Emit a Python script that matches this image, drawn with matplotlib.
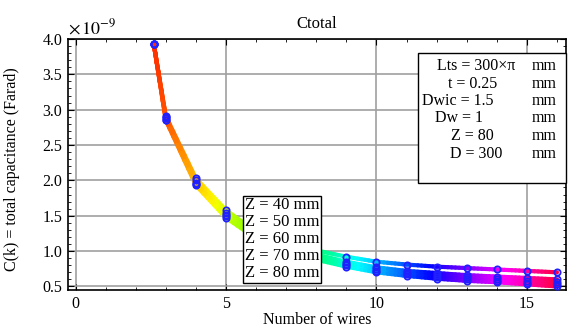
import numpy as np
import matplotlib.pyplot as plt
from matplotlib.collections import LineCollection

plt.rcParams['font.family'] = ['Liberation Serif', 'DejaVu Serif']
plt.rcParams['mathtext.fontset'] = 'stix'

# number of wires
wires = [2.6, 3, 4, 5, 6, 7, 8, 9, 10, 11, 12, 13, 14, 15, 16]

# total capacitance (x 1e-9 F) per Z
c_z40 = [3.93, 2.91, 2.03, 1.58, 1.27, 1.12, 1.01, 0.92, 0.85, 0.81, 0.78, 0.76, 0.74, 0.72, 0.70]
c_z50 = [3.93, 2.89, 2.00, 1.54, 1.24, 1.08, 0.95, 0.85, 0.77, 0.72, 0.69, 0.66, 0.64, 0.62, 0.60]
c_z60 = [3.93, 2.88, 1.97, 1.51, 1.22, 1.05, 0.92, 0.82, 0.74, 0.69, 0.66, 0.63, 0.61, 0.58, 0.56]
c_z70 = [3.93, 2.86, 1.95, 1.49, 1.20, 1.03, 0.90, 0.80, 0.72, 0.67, 0.63, 0.60, 0.58, 0.55, 0.53]
c_z80 = [3.93, 2.85, 1.93, 1.47, 1.18, 1.01, 0.88, 0.78, 0.70, 0.65, 0.61, 0.58, 0.56, 0.53, 0.50]
series = [c_z40, c_z50, c_z60, c_z70, c_z80]
labels = ['Z = 40 mm', 'Z = 50 mm', 'Z = 60 mm', 'Z = 70 mm', 'Z = 80 mm']

fig = plt.figure(figsize=(5.69, 3.27), dpi=100)
ax = fig.add_axes([68/569, 1-290/327, (566-68)/569, (290-39)/327])

cmap = plt.get_cmap('hsv')

def hue(x):
    return 0.03 + (x - 2.6) * 0.07

for i, c in enumerate(series):
    # straight segments between points, cut into small pieces for the colour gradient
    segs, cols = [], []
    for j in range(len(wires) - 1):
        x0, x1 = wires[j], wires[j+1]
        y0, y1 = c[j], c[j+1]
        for t in np.linspace(0, 1, 9)[:-1]:
            xa = x0 + (x1 - x0) * t
            xb = x0 + (x1 - x0) * (t + 1/8)
            ya = y0 + (y1 - y0) * t
            yb = y0 + (y1 - y0) * (t + 1/8)
            segs.append([(xa, ya), (xb, yb)])
            cols.append(cmap(hue((xa + xb) / 2)))
    lc = LineCollection(segs, colors=cols, linewidths=3, capstyle='round', zorder=2)
    ax.add_collection(lc)
    ax.plot(wires, c, 'o', ms=4.5, mfc='none', mec='#2020ff', mew=1.3, zorder=3)

ax.set_xlim(-0.25, 16.3)
ax.set_ylim(0.45, 4.0)
ax.set_xticks([0, 5, 10, 15])
ax.set_xticks(np.arange(0, 17, 1), minor=True)
ax.set_yticks([0.5, 1.0, 1.5, 2.0, 2.5, 3.0, 3.5, 4.0])
ax.set_yticklabels(['0.5', '1.0', '1.5', '2.0', '2.5', '3.0', '3.5', '4.0'])
ax.set_yticks(np.arange(0.5, 4.0, 0.1), minor=True)
ax.tick_params(which='both', direction='in', top=True, right=True, labelsize=11.5)
ax.tick_params(which='major', length=4, pad=4)
ax.tick_params(which='minor', length=2)
ax.grid(True, which='major', color='#a0a0a0', lw=1.2)
ax.set_axisbelow(True)
for s in ax.spines.values():
    s.set_linewidth(1.2)

ax.set_title('Ctotal', fontsize=12, pad=8)
ax.set_xlabel('Number of wires', fontsize=11.5, labelpad=0)
ax.set_ylabel('C(k) = total capacitance (Farad)', fontsize=11.5)
ax.yaxis.set_label_coords(-48/498, 0.48)
ax.text(0.0, 1.005, r'$\times\,10^{-9}$', transform=ax.transAxes, fontsize=13,
        ha='left', va='bottom')

ax.text(5.62, 1.76, '\n'.join(labels), fontsize=12, linespacing=1.08,
        ha='left', va='top', zorder=5,
        bbox=dict(boxstyle='square,pad=0.1', fc='white', ec='black', lw=1))

info = [('Lts = 300×π', 'mm', 476), ('t = 0.25', 'mm', 473), ('Dwic = 1.5', 'mm', 458),
        ('Dw = 1', 'mm', 459), ('Z = 80', 'mm', 472), ('D = 300', 'mm', 476)]
box = plt.Rectangle((418/569, 1-183/327), (566-418)/569, (183-53)/327,
                    transform=fig.transFigure, fc='white', ec='black', lw=1, zorder=5)
fig.patches.append(box)
for k, (a, b, xc) in enumerate(info):
    y = 1 - (66 + k*17.5)/327
    fig.text(xc/569, y, a, fontsize=11.5, ha='center', va='center', zorder=6)
    fig.text(544/569, y, b, fontsize=11.5, ha='center', va='center', zorder=6)

plt.savefig('out.png', dpi=100)
